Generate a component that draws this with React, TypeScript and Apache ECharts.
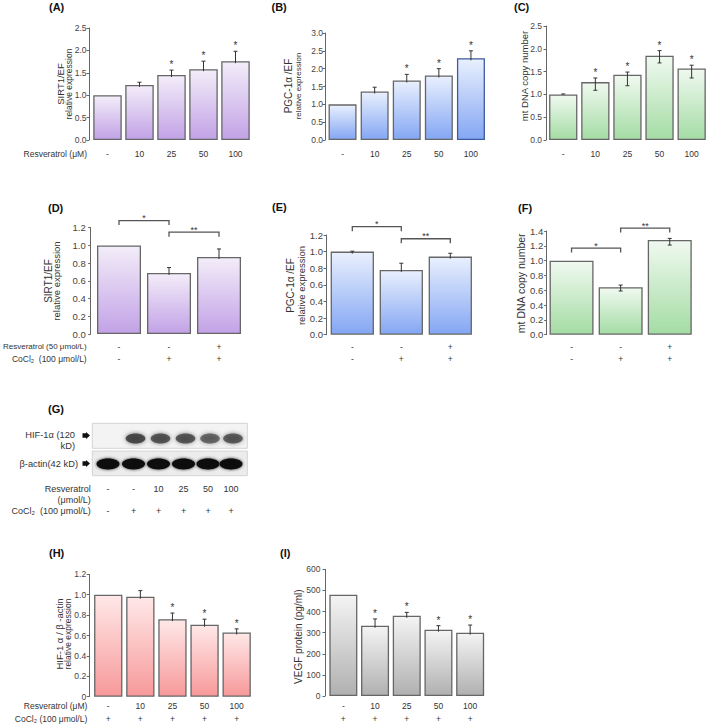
import { useEffect, useRef } from "react";
import * as echarts from "echarts";

const FONT = "'Liberation Sans', Arial, Helvetica, sans-serif";

// ---------- data ----------
const doseCats = ["-", "10", "25", "50", "100"];

// (A) SIRT1/EF
const sirt1Dose = [1.0, 1.23, 1.45, 1.58, 1.76];
const sirt1DoseErr = [0, 0.06, 0.11, 0.18, 0.22];
const sirt1DoseSig = ["", "", "*", "*", "*"];

// (B) PGC-1α/EF
const pgcDose = [1.0, 1.36, 1.67, 1.81, 2.29];
const pgcDoseErr = [0, 0.12, 0.17, 0.19, 0.21];
const pgcDoseSig = ["", "", "*", "*", "*"];

// (C) mtDNA copy number
const mtDose = [1.0, 1.27, 1.43, 1.85, 1.57];
const mtDoseErrUp = [0.01, 0.09, 0.06, 0.11, 0.07];
const mtDoseErrDown = [0.01, 0.18, 0.24, 0.16, 0.21];
const mtDoseSig = ["", "*", "*", "*", "*"];

// (D)(E)(F) CoCl2 experiments
const cocl2Cats = ["-\n-", "-\n+", "+\n+"];
const sirt1Cocl2 = [1.0, 0.69, 0.87];
const sirt1Cocl2Err = [0, 0.06, 0.09];
const pgcCocl2 = [1.0, 0.78, 0.94];
const pgcCocl2Err = [0.005, 0.08, 0.04];
const mtCocl2 = [1.0, 0.64, 1.28];
const mtCocl2ErrUp = [0, 0.03, 0.02];
const mtCocl2ErrDown = [0, 0.05, 0.07];
// brackets: [fromIndex, level, toIndex, label]
const sirt1Brackets: [number, number, number, string][] = [[0, 1.28, 1, "*"], [1, 1.15, 2, "**"]];
const pgcBrackets: [number, number, number, string][] = [[0, 1.3, 1, "*"], [1, 1.155, 2, "**"]];
const mtBrackets: [number, number, number, string][] = [[0, 1.17, 1, "*"], [1, 1.44, 2, "**"]];

// (G) western blot lanes
const blotLaneRes = ["-", "-", "10", "25", "50", "100"];
const blotLaneCo = ["-", "+", "+", "+", "+", "+"];
const hifBand = [0, 1, 0.9, 0.88, 0.75, 0.85];
const actinBand = [1, 1, 1, 1, 1, 1];

// (H) HIF-1α/β-actin
const hypoxCats = ["-\n+", "10\n+", "25\n+", "50\n+", "100\n+"];
const hifRatio = [1.0, 0.98, 0.76, 0.705, 0.63];
const hifRatioErr = [0, 0.06, 0.06, 0.055, 0.035];
const hifSig = ["", "", "*", "*", "*"];

// (I) VEGF protein
const vegf = [480, 333, 380, 314, 300];
const vegfErr = [0, 32, 16, 19, 36];
const vegfSig = ["", "*", "*", "*", "*"];

// ---------- styling ----------
const PURPLE = ["#f3edf9", "#c2a2e6"];
const BLUE = ["#e9f0fe", "#84a6f3"];
const GREEN = ["#f0f9f0", "#a4dca4"];
const RED = ["#ffe8e8", "#f7999a"];
const GRAY = ["#f4f4f4", "#b0b0b0"];

type Panel = {
  cats: string[];
  values: number[];
  up: number[];
  down: number[] | null;
  sig: string[];
  brackets?: [number, number, number, string][];
  grid: { left: number; top: number; width: number; height: number };
  max: number;
  interval: number;
  offset: number;
  yMargin: number;
  yFont: number;
  xFont: number;
  xMargin: number;
  xLineHeight: number;
  barWidth: number;
  colors: string[];
  fmt: (v: number) => string;
  specialBorder?: { index: number; color: string };
};

const f1 = (v: number) => v.toFixed(1);

const panels: Panel[] = [
  {
    cats: doseCats, values: sirt1Dose, up: sirt1DoseErr, down: null, sig: sirt1DoseSig,
    grid: { left: 91.5, top: 28, width: 160, height: 112 }, max: 2.5, interval: 0.5, offset: 2.5,
    yMargin: 2.5, yFont: 8.5, xFont: 8.5, xMargin: 9, xLineHeight: 10, barWidth: 28.5, colors: PURPLE, fmt: f1,
  },
  {
    cats: doseCats, values: pgcDose, up: pgcDoseErr, down: null, sig: pgcDoseSig,
    grid: { left: 326.5, top: 33, width: 160.5, height: 107 }, max: 3, interval: 0.5, offset: 1.5,
    yMargin: 2, yFont: 8.5, xFont: 8.5, xMargin: 9, xLineHeight: 10, barWidth: 28, colors: BLUE, fmt: f1,
    specialBorder: { index: 4, color: "#3d5c9c" },
  },
  {
    cats: doseCats, values: mtDose, up: mtDoseErrUp, down: mtDoseErrDown, sig: mtDoseSig,
    grid: { left: 547.2, top: 26, width: 160.5, height: 114 }, max: 2.5, interval: 0.5, offset: 1.2,
    yMargin: 4, yFont: 8.5, xFont: 8.5, xMargin: 9, xLineHeight: 10, barWidth: 28.3, colors: GREEN, fmt: f1,
  },
  {
    cats: cocl2Cats, values: sirt1Cocl2, up: sirt1Cocl2Err, down: null, sig: ["", "", ""], brackets: sirt1Brackets,
    grid: { left: 94, top: 227.7, width: 150, height: 106.3 }, max: 1.2, interval: 0.2, offset: 3.3,
    yMargin: 5, yFont: 9.5, xFont: 8.5, xMargin: 6.4, xLineHeight: 12.6, barWidth: 44, colors: PURPLE, fmt: f1,
  },
  {
    cats: cocl2Cats, values: pgcCocl2, up: pgcCocl2Err, down: null, sig: ["", "", ""], brackets: pgcBrackets,
    grid: { left: 327.8, top: 235, width: 147, height: 99.7 }, max: 1.2, interval: 0.2, offset: 1.8,
    yMargin: 3, yFont: 9.5, xFont: 8.5, xMargin: 5.7, xLineHeight: 12.6, barWidth: 43.3, colors: BLUE, fmt: f1,
  },
  {
    cats: cocl2Cats, values: mtCocl2, up: mtCocl2ErrUp, down: mtCocl2ErrDown, sig: ["", "", ""], brackets: mtBrackets,
    grid: { left: 547, top: 231, width: 147.3, height: 103.7 }, max: 1.4, interval: 0.2, offset: 0.3,
    yMargin: 3.5, yFont: 9.5, xFont: 8.5, xMargin: 5.7, xLineHeight: 12.6, barWidth: 44, colors: GREEN, fmt: f1,
  },
  {
    cats: hypoxCats, values: hifRatio, up: hifRatioErr, down: null, sig: hifSig,
    grid: { left: 92.2, top: 574.3, width: 160.5, height: 122.4 }, max: 1.2, interval: 0.2, offset: 3,
    yMargin: 3, yFont: 8.5, xFont: 8.5, xMargin: 2.7, xLineHeight: 13.3, barWidth: 28.3, colors: RED,
    fmt: (v: number) => (v === 0 ? "0" : v.toFixed(1)),
  },
  {
    cats: hypoxCats, values: vegf, up: vegfErr, down: null, sig: vegfSig,
    grid: { left: 327.5, top: 569.3, width: 158.5, height: 126.7 }, max: 600, interval: 100, offset: 2.5,
    yMargin: 4.5, yFont: 8.5, xFont: 8.5, xMargin: 3.3, xLineHeight: 13.3, barWidth: 28, colors: GRAY,
    fmt: (v: number) => String(Math.round(v)),
  },
];

const grad = (c: string[]) => ({
  type: "linear", x: 0, y: 0, x2: 0, y2: 1,
  colorStops: [{ offset: 0, color: c[0] }, { offset: 1, color: c[1] }],
});

function buildOption() {
  const grid: any[] = [];
  const xAxis: any[] = [];
  const yAxis: any[] = [];
  const series: any[] = [];

  panels.forEach((p, k) => {
    grid.push({ ...p.grid, containLabel: false, outerBoundsMode: "none" });
    xAxis.push({
      type: "category", gridIndex: k, data: p.cats,
      axisLine: { show: false }, axisTick: { show: false }, splitLine: { show: false },
      axisLabel: { interval: 0, fontSize: p.xFont, fontFamily: FONT, color: "#333", margin: p.xMargin, lineHeight: p.xLineHeight },
    });
    yAxis.push({
      type: "value", gridIndex: k, min: 0, max: p.max, interval: p.interval, offset: p.offset,
      axisLine: { show: true, lineStyle: { color: "#666", width: 1 } },
      axisTick: { show: true, length: 2.5, lineStyle: { color: "#666", width: 1 } },
      splitLine: { show: false },
      axisLabel: { fontSize: p.yFont, fontFamily: FONT, color: "#444", margin: p.yMargin, formatter: p.fmt },
    });
    series.push({
      type: "bar", xAxisIndex: k, yAxisIndex: k, barWidth: p.barWidth, silent: true, z: 2,
      data: p.values.map((v, i) =>
        p.specialBorder && p.specialBorder.index === i ? { value: v, itemStyle: { borderColor: p.specialBorder.color } } : v
      ),
      itemStyle: { color: grad(p.colors), borderColor: "#666", borderWidth: 1.3 },
    });
    series.push({
      type: "custom", xAxisIndex: k, yAxisIndex: k, silent: true, z: 5, clip: false,
      data: p.values.map((v, i) => [i, v, p.up[i], p.down ? p.down[i] : 0]),
      renderItem: (params: any, api: any) => {
        const i = params.dataIndex;
        const v = p.values[i];
        const u = p.up[i];
        const d = p.down ? p.down[i] : 0;
        const top = api.coord([i, v + u]);
        const bar = api.coord([i, v]);
        const bot = p.down ? api.coord([i, v - d]) : [bar[0], bar[1] + 2];
        const children: any[] = [];
        if (u > 0) {
          children.push({ type: "line", shape: { x1: top[0], y1: top[1], x2: bot[0], y2: bot[1] }, style: { stroke: "#333", lineWidth: 1 } });
          children.push({ type: "line", shape: { x1: top[0] - 2, y1: top[1], x2: top[0] + 2, y2: top[1] }, style: { stroke: "#333", lineWidth: 1 } });
          if (p.down && d > 0.02) {
            children.push({ type: "line", shape: { x1: bot[0] - 2, y1: bot[1], x2: bot[0] + 2, y2: bot[1] }, style: { stroke: "#333", lineWidth: 1 } });
          }
        }
        if (p.sig[i]) {
          children.push({
            type: "text", x: top[0], y: top[1] - 5.5,
            style: { text: p.sig[i], fill: "#333", font: `10px ${FONT}`, align: "center", verticalAlign: "middle" },
          });
        }
        return { type: "group", children };
      },
    });
    if (p.brackets) {
      const br = p.brackets;
      series.push({
        type: "custom", xAxisIndex: k, yAxisIndex: k, silent: true, z: 5, clip: false,
        data: br.map((b) => [b[0], b[1], b[2]]),
        renderItem: (params: any, api: any) => {
          const b = br[params.dataIndex];
          const p1 = api.coord([b[0], b[1]]);
          const p2 = api.coord([b[2], b[1]]);
          return {
            type: "group",
            children: [
              {
                type: "polyline",
                shape: { points: [[p1[0], p1[1] + 4.5], [p1[0], p1[1]], [p2[0], p2[1]], [p2[0], p2[1] + 4.5]] },
                style: { stroke: "#555", lineWidth: 1.3, fill: "none" },
              },
              {
                type: "text", x: (p1[0] + p2[0]) / 2, y: p1[1] - 2.5,
                style: { text: b[3], fill: "#333", font: `9px ${FONT}`, align: "center", verticalAlign: "middle" },
              },
            ],
          };
        },
      });
    }
  });

  const graphic: any[] = [];
  const txt = (text: string, x: number, y: number, size: number, opts: any = {}) => ({
    type: "text", x, y, silent: true, rotation: opts.rotation || 0,
    style: {
      text, fill: opts.fill || "#333", font: `${opts.bold ? "bold " : ""}${size}px ${FONT}`,
      align: opts.align || "left", verticalAlign: "middle",
    },
  });

  // panel letters
  const letters: [string, number, number][] = [
    ["(A)", 49, 7], ["(B)", 271.5, 7], ["(C)", 514, 7], ["(D)", 48, 208], ["(E)", 272, 207],
    ["(F)", 518, 208], ["(G)", 48, 409], ["(H)", 49, 553], ["(I)", 280, 553],
  ];
  letters.forEach(([t, x, y]) => graphic.push(txt(t, x, y, 11, { bold: true, fill: "#111" })));

  // y-axis titles (rotated)
  const R = Math.PI / 2;
  const ytitles: [string, number, number, number][] = [
    ["SIRT1/EF", 60.5, 84, 9.5], ["relative expression", 68.5, 84, 8.5],
    ["PGC-1α /EF", 288.8, 86, 10], ["relative expression", 298, 86, 8],
    ["mt DNA copy number", 524, 76, 9.5],
    ["SIRT1/EF", 48.5, 281, 10], ["relative expression", 56.7, 281, 9.5],
    ["PGC-1α /EF", 290.8, 285.5, 10], ["relative expression", 301.5, 285.5, 9.5],
    ["mt DNA copy number", 521, 283.3, 10.5],
    ["HIF-1 α / β -actin", 59.7, 634, 9.5], ["relative expression", 67.8, 634, 8.5],
    ["VEGF protein (pg/ml)", 298.3, 636.7, 10],
  ];
  ytitles.forEach(([t, x, y, s]) => graphic.push(txt(t, x, y, s, { rotation: R, align: "center" })));

  // row titles
  const rows: [string, number, number, number][] = [
    ["Resveratrol (μM)", 87, 154, 8.5],
    ["Resveratrol (50 μmol/L)", 86.7, 346.7, 8],
    ["CoCl₂  (100 μmol/L)", 86.7, 359.3, 8.5],
    ["Resveratrol (μM)", 87.3, 706, 8.5],
    ["CoCl₂ (100 μmol/L)", 87.3, 719.3, 8.5],
    ["Resveratrol", 90.7, 489, 9],
    ["(μmol/L)", 90.7, 500, 9],
    ["CoCl₂  (100 μmol/L)", 90.7, 510.7, 9],
    ["HIF-1α (120", 75, 435, 9.3],
    ["kD)", 75, 446, 9.3],
    ["β-actin(42 kD)", 78, 463.5, 9.3],
  ];
  rows.forEach(([t, x, y, s]) => graphic.push(txt(t, x, y, s, { align: "right" })));

  // blot
  const laneX = [108, 133.5, 158.5, 183.5, 208, 231];
  graphic.push({ type: "rect", silent: true, shape: { x: 92.3, y: 423.3, width: 155, height: 25 }, style: { fill: "#f3f3f3", stroke: "#d4d4d4", lineWidth: 1 } });
  graphic.push({ type: "rect", silent: true, shape: { x: 92.3, y: 451, width: 155, height: 24.7 }, style: { fill: "#ececec", stroke: "#d4d4d4", lineWidth: 1 } });
  laneX.forEach((x, i) => {
    if (hifBand[i] > 0) {
      graphic.push({
        type: "ellipse", silent: true, shape: { cx: x + 2, cy: 438.5, rx: 9.8, ry: 5 },
        style: { fill: "#3a3a3a", opacity: 0.85 * hifBand[i], shadowBlur: 4, shadowColor: "#555" },
      });
    }
    graphic.push({
      type: "ellipse", silent: true, shape: { cx: x, cy: 464, rx: 11.5, ry: 5.4 },
      style: { fill: "#0d0d0d", opacity: actinBand[i], shadowBlur: 3, shadowColor: "#222" },
    });
    graphic.push(txt(blotLaneRes[i], x, 489, 9, { align: "center" }));
    graphic.push(txt(blotLaneCo[i], x, 510.7, 9, { align: "center" }));
  });
  [435.5, 463.5].forEach((y) => {
    graphic.push({
      type: "polygon", silent: true,
      shape: { points: [[82.5, y - 2.2], [86, y - 2.2], [86, y - 3.5], [90, y], [86, y + 3.5], [86, y + 2.2], [82.5, y + 2.2]] },
      style: { fill: "#111" },
    });
  });

  return {
    animation: false,
    backgroundColor: "#ffffff",
    textStyle: { fontFamily: FONT },
    grid, xAxis, yAxis, series, graphic,
  };
}

export default function App() {
  const ref = useRef<HTMLDivElement>(null);
  useEffect(() => {
    const chart = echarts.init(ref.current!, null, { renderer: "svg" });
    chart.setOption(buildOption() as any);
    return () => chart.dispose();
  }, []);
  return (
    <div
      ref={ref}
      style={{ position: "fixed", left: 0, top: 0, width: 709, height: 724, background: "#fff" }}
    />
  );
}
